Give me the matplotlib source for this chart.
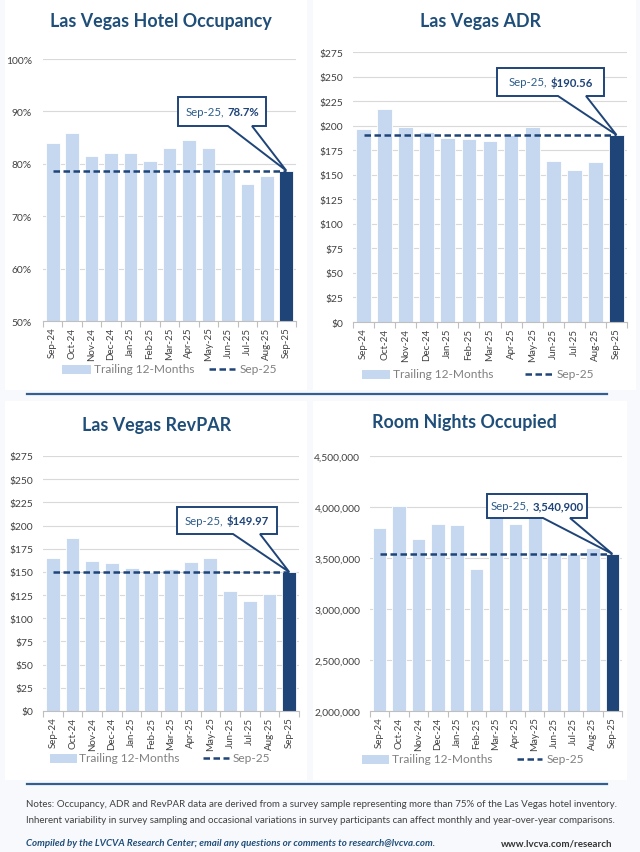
import matplotlib
matplotlib.use("Agg")
import matplotlib.pyplot as plt
from matplotlib.patches import Rectangle, Polygon
from matplotlib.lines import Line2D
import matplotlib.ticker as mt

plt.rcParams['font.family'] = ['Lato', 'DejaVu Sans']

# ---------------- data ----------------
months = ["Sep-24", "Oct-24", "Nov-24", "Dec-24", "Jan-25", "Feb-25", "Mar-25",
          "Apr-25", "May-25", "Jun-25", "Jul-25", "Aug-25", "Sep-25"]
occupancy = [84.0, 85.8, 81.5, 82.0, 82.0, 80.6, 83.0, 84.6, 83.1, 78.9, 76.2, 77.6, 78.7]
adr = [196.6, 217.3, 199.0, 193.9, 187.8, 186.0, 184.0, 190.7, 198.6, 163.7, 154.8, 162.6, 190.56]
revpar = [165.3, 186.6, 162.3, 159.2, 154.1, 149.9, 152.9, 161.2, 165.1, 129.2, 118.2, 126.3, 149.97]
room_nights = [3798000, 4007000, 3687000, 3831000, 3821000, 3397000, 3900000,
               3831000, 3905000, 3550000, 3540000, 3602000, 3540900]

titles = ["Las Vegas Hotel Occupancy", "Las Vegas ADR", "Las Vegas RevPAR", "Room Nights Occupied"]
callout_values = ["78.7%", "$190.56", "$149.97", "3,540,900"]
legend_labels = ["Trailing 12-Months", "Sep-25"]
notes_1 = ("Notes: Occupancy, ADR and RevPAR data are derived from a survey sample representing "
           "more than 75% of the Las Vegas hotel inventory.")
notes_2 = ("Inherent variability in survey sampling and occasional variations in survey participants "
           "can affect monthly and year-over-year comparisons.")
credit = "Compiled by the LVCVA Research Center; email any questions or comments to research@lvcva.com."
website = "www.lvcva.com/research"

# ---------------- style ----------------
W, H = 640, 853
LIGHT = "#c6d8ef"
DARK = "#1f4478"
TITLE_C = "#1f4e79"
TICK_C = "#404040"
GRID_C = "#d9d9d9"
LEG_C = "#808080"

fig = plt.figure(figsize=(W / 100, H / 100), dpi=100)
fig.patch.set_facecolor("#f7f9fc")


def fx(x):
    return x / W


def fy(y):
    return 1 - y / H


def frect(x0, y0, x1, y1, **kw):
    r = Rectangle((fx(x0), fy(y1)), (x1 - x0) / W, (y1 - y0) / H,
                  transform=fig.transFigure, **kw)
    fig.add_artist(r)
    return r


# panel backgrounds
for (x0, y0, x1, y1) in [(5, 0, 307, 391), (313, 0, 636, 391), (5, 402, 307, 781), (313, 402, 627, 781)]:
    frect(x0, y0, x1, y1, facecolor="white", edgecolor="none", zorder=-5)

# separator lines
for yy in [395, 785]:
    fig.add_artist(Line2D([fx(27), fx(607)], [fy(yy), fy(yy)], transform=fig.transFigure,
                          color="#335e8f", lw=1.6))

renderer = fig.canvas.get_renderer()


def text_width(s, **kw):
    t = fig.text(0, 0, s, **kw)
    w = t.get_window_extent(renderer).width
    t.remove()
    return w


def panel(vals, axbox, ylim, yticks, fmt, title, title_xy, value_text, box, bases, legend_pos, ytick_pad):
    x0, y0, x1, y1 = axbox
    ax = fig.add_axes([fx(x0), fy(y1), (x1 - x0) / W, (y1 - y0) / H])
    ax.set_facecolor("none")
    n = len(vals)
    xs = list(range(n))
    colors = [LIGHT] * (n - 1) + [DARK]
    ax.bar(xs, vals, width=0.70, color=colors, edgecolor="white", linewidth=0.6, zorder=2)
    cur = vals[-1]
    ax.plot([0, n - 1], [cur, cur], color=DARK, lw=1.8, dashes=(2.6, 1.4), zorder=3)
    ax.set_xlim(-0.5, n - 0.5)
    ax.set_ylim(*ylim)
    ax.set_yticks(yticks)
    ax.yaxis.set_major_formatter(mt.FuncFormatter(fmt))
    ax.set_xticks(xs)
    ax.set_xticklabels(months, rotation=90)
    ax.set_xticks([i - 0.5 for i in range(n + 1)], minor=True)
    ax.tick_params(axis="x", which="major", length=0, pad=4, labelsize=7.0, labelcolor=TICK_C)
    ax.tick_params(axis="x", which="minor", length=4, color="#bfbfbf", width=0.8, direction="out")
    ax.tick_params(axis="y", length=0, pad=ytick_pad, labelsize=7.4, labelcolor=TICK_C)
    ax.grid(axis="y", color=GRID_C, lw=0.8, zorder=0)
    ax.set_axisbelow(True)
    for s in ["top", "right", "left"]:
        ax.spines[s].set_visible(False)
    ax.spines["bottom"].set_color("#bfbfbf")
    ax.spines["bottom"].set_linewidth(0.8)
    ax.spines["bottom"].set_zorder(4)

    # title
    fig.text(fx(title_xy[0]), fy(title_xy[1]), title, ha="center", va="center",
             fontsize=12.9, fontweight="bold", color=TITLE_C)

    # callout
    tip_disp = ax.transData.transform((n - 1, cur))
    tx, ty = tip_disp[0], H - tip_disp[1]
    bx0, by0, bx1, by1 = box
    b1, b2 = bases
    pts = [(bx0, by0), (bx1, by0), (bx1, by1), (b2, by1), (tx, ty), (b1, by1), (bx0, by1)]
    poly = Polygon([(fx(a), fy(b)) for a, b in pts], closed=True, transform=fig.transFigure,
                   facecolor="white", edgecolor=DARK, lw=1.4, zorder=6, joinstyle="miter")
    fig.add_artist(poly)
    reg = "Sep-25,"
    kw_r = dict(fontsize=8.2, color="#2e5c8a")
    kw_b = dict(fontsize=8.2, color=DARK, fontweight="bold")
    w1 = text_width(reg, **kw_r)
    w2 = text_width(value_text, **kw_b)
    gap = 3.2
    cx = (bx0 + bx1) / 2
    cy = (by0 + by1) / 2
    start = cx - (w1 + gap + w2) / 2
    fig.text(fx(start), fy(cy), reg, ha="left", va="center", zorder=7, **kw_r)
    fig.text(fx(start + w1 + gap), fy(cy), value_text, ha="left", va="center", zorder=7, **kw_b)

    # legend
    px0, px1, ptx, dx0, dx1, dtx, ly = legend_pos
    frect(px0, ly - 4.5, px1, ly + 4.5, facecolor=LIGHT, edgecolor="none", zorder=2)
    fig.text(fx(ptx), fy(ly), legend_labels[0], ha="left", va="center", fontsize=8.6, color=LEG_C)
    fig.add_artist(Line2D([fx(dx0), fx(dx1)], [fy(ly), fy(ly)], transform=fig.transFigure,
                          color=DARK, lw=1.8, dashes=(2.6, 1.4)))
    fig.text(fx(dtx), fy(ly), legend_labels[1], ha="left", va="center", fontsize=8.6, color=LEG_C)
    return ax


panel(occupancy, (43, 60, 296, 322), (50, 100), [50, 60, 70, 80, 90, 100],
      lambda v, p: f"{v:.0f}%", titles[0], (161, 22), callout_values[0],
      (178, 98, 266, 127), (228, 252), (62, 91, 94, 209, 235, 240, 370), 8)

panel(adr, (353, 53, 627, 323), (0, 275), list(range(0, 276, 25)),
      lambda v, p: f"${v:.0f}", titles[1], (481, 22), callout_values[1],
      (497, 69, 604, 97), (558, 586), (362, 390, 393, 525, 553, 557, 375), 7)

panel(revpar, (43, 457, 299, 712), (0, 275), list(range(0, 276, 25)),
      lambda v, p: f"${v:.0f}", titles[2], (157, 426), callout_values[2],
      (177, 508, 277, 535), (233, 260), (50, 77, 79, 203, 229, 233, 759), 7)

panel(room_nights, (370, 457, 622, 712), (2000000, 4500000), list(range(2000000, 4500001, 500000)),
      lambda v, p: f"{v:,.0f}", titles[3], (464, 423), callout_values[3],
      (487, 495, 587, 519), (543, 570), (362, 389, 392, 517, 542, 547, 760), 7)

# notes
fig.text(fx(26), fy(805), notes_1, ha="left", va="center", fontsize=7.0, color="#404040")
fig.text(fx(26), fy(821), notes_2, ha="left", va="center", fontsize=7.0, color="#404040")
fig.text(fx(26), fy(844), credit, ha="left", va="center", fontsize=7.0, color=TITLE_C,
         fontweight="bold", fontstyle="italic")
fig.text(fx(612), fy(844), website, ha="right", va="center", fontsize=7.0, color="#333333",
         fontweight="bold")

fig.savefig("out.png", dpi=100, facecolor=fig.get_facecolor())
